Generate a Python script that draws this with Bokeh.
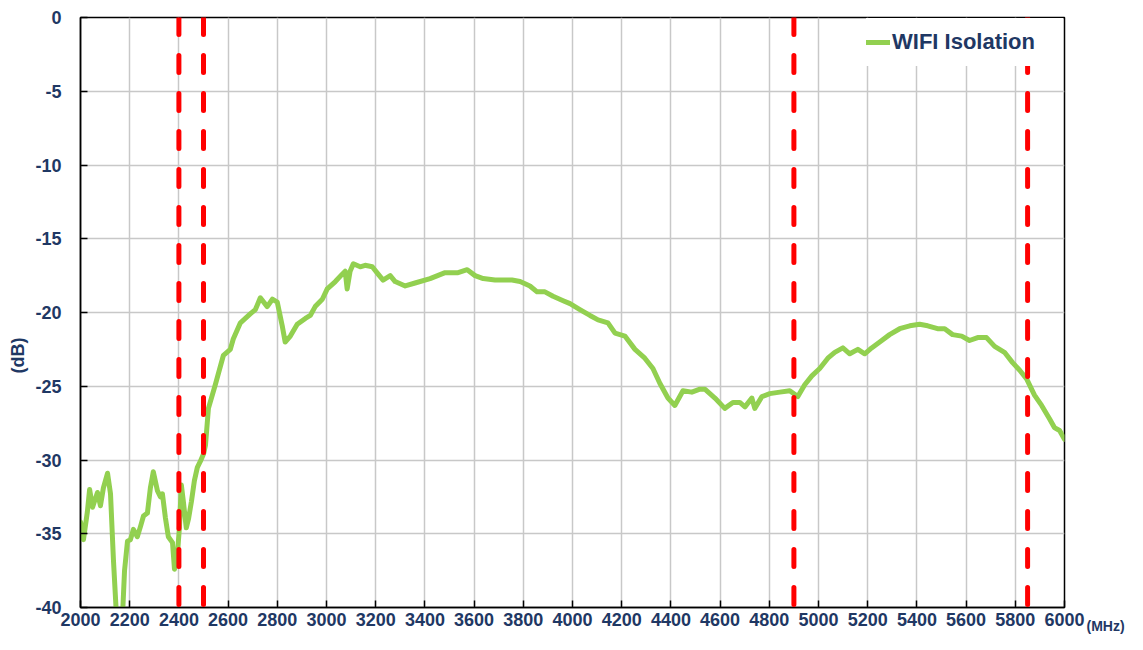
from bokeh.plotting import figure
from bokeh.models import (Span, Legend, LegendItem, Title, LinearAxis, FixedTicker, Range1d,
                          PrintfTickFormatter)
from bokeh.embed import file_html
from bokeh.resources import INLINE

# ---------------- data ----------------
freq_mhz = [
    2000, 2012, 2028, 2037, 2049, 2057, 2069, 2081, 2093, 2110, 2122, 2134, 2146, 2158, 2171,
    2179, 2191, 2203, 2215, 2231, 2244, 2256, 2272, 2284, 2296, 2313, 2325, 2333, 2345, 2357,
    2374, 2382, 2394, 2402, 2410, 2418, 2430, 2439, 2451, 2463, 2475, 2487, 2500, 2508, 2520,
    2548, 2581, 2609, 2621, 2650, 2670, 2690, 2711, 2731, 2759, 2780, 2800, 2820, 2832, 2853,
    2881, 2914, 2934, 2954, 2983, 3003, 3036, 3064, 3076, 3084, 3096, 3109, 3137, 3157, 3186,
    3210, 3230, 3259, 3279, 3320, 3360, 3421, 3482, 3535, 3572, 3604, 3637, 3685, 3726, 3754,
    3787, 3827, 3856, 3888, 3921, 3962, 3990, 4030, 4071, 4104, 4144, 4173, 4213, 4254, 4294,
    4327, 4355, 4388, 4416, 4449, 4485, 4518, 4538, 4579, 4619, 4652, 4680, 4701, 4729, 4741,
    4770, 4802, 4843, 4883, 4916, 4944, 4973, 5005, 5038, 5066, 5099, 5127, 5160, 5188, 5216,
    5249, 5289, 5330, 5371, 5411, 5444, 5484, 5513, 5545, 5582, 5614, 5647, 5683, 5716, 5756,
    5789, 5817, 5846, 5878, 5907, 5939, 5959, 5980, 6000,
]
isolation_db = [
    -34.2, -35.4, -33.5, -32.0, -33.2, -32.8, -32.2, -33.1, -31.9, -30.9, -32.3, -36.8, -40.5, -42.0, -40.5,
    -37.5, -35.5, -35.4, -34.7, -35.2, -34.5, -33.8, -33.6, -31.9, -30.8, -32.1, -32.5, -32.3, -33.9, -35.2,
    -35.6, -37.4, -36.4, -34.6, -31.7, -32.8, -34.6, -34.0, -32.8, -31.4, -30.5, -30.1, -29.6, -29.0, -26.5,
    -24.9, -22.9, -22.5, -21.8, -20.7, -20.4, -20.1, -19.8, -19.0, -19.6, -19.1, -19.3, -20.9, -22.0, -21.6,
    -20.8, -20.4, -20.2, -19.6, -19.1, -18.4, -17.9, -17.4, -17.2, -18.4, -17.2, -16.7, -16.9, -16.8, -16.9,
    -17.4, -17.8, -17.5, -17.9, -18.2, -18.0, -17.7, -17.3, -17.3, -17.1, -17.5, -17.7, -17.8, -17.8, -17.8,
    -17.9, -18.2, -18.6, -18.6, -18.9, -19.2, -19.4, -19.8, -20.2, -20.5, -20.7, -21.4, -21.6, -22.5, -23.1,
    -23.8, -24.8, -25.8, -26.3, -25.3, -25.4, -25.2, -25.2, -25.8, -26.5, -26.1, -26.1, -26.4, -25.8, -26.5,
    -25.7, -25.5, -25.4, -25.3, -25.7, -24.9, -24.3, -23.8, -23.1, -22.7, -22.4, -22.8, -22.5, -22.8, -22.4,
    -22.0, -21.5, -21.1, -20.9, -20.8, -20.9, -21.1, -21.1, -21.5, -21.6, -21.9, -21.7, -21.7, -22.3, -22.7,
    -23.4, -23.9, -24.5, -25.6, -26.3, -27.2, -27.8, -28.0, -28.6,
]
band_edges_mhz = [2400, 2500, 4900, 5850]
x_ticks = list(range(2000, 6001, 200))
y_ticks = list(range(-40, 1, 5))
series_name = "WIFI Isolation"
y_unit = "(dB)"
x_unit = "(MHz)"

# ---------------- styling ----------------
FONT = "Liberation Sans"
TEXT = "#1F3864"
GREEN = "#92D050"
GRID = "#C8C8C8"

p = figure(width=1127, height=634, output_backend="svg", toolbar_location=None,
           x_range=Range1d(2000, 6000), y_range=Range1d(-40, 0),
           min_border_left=80, min_border_right=62, min_border_top=17, min_border_bottom=27)
p.background_fill_color = "white"
p.border_fill_color = "white"
p.outline_line_color = "black"
p.outline_line_width = 1.5

for ax, ticks in ((p.xaxis[0], x_ticks), (p.yaxis[0], y_ticks)):
    ax.ticker = FixedTicker(ticks=ticks)
    ax.formatter = PrintfTickFormatter(format="%d")
    ax.axis_line_color = "black"
    ax.axis_line_width = 1.5
    ax.major_tick_line_color = "black"
    ax.major_tick_line_width = 1.5
    ax.major_tick_in = 7
    ax.major_tick_out = 0
    ax.minor_tick_line_color = None
    ax.major_label_text_font = FONT
    ax.major_label_text_font_style = "bold"
    ax.major_label_text_color = TEXT
    ax.major_label_text_font_size = "18px"
p.xaxis.major_label_standoff = 5
p.yaxis.major_label_standoff = 19

p.xgrid.ticker = FixedTicker(ticks=x_ticks)
p.ygrid.ticker = FixedTicker(ticks=y_ticks)
for g in (p.xgrid[0], p.ygrid[0]):
    g.grid_line_color = GRID
    g.grid_line_width = 1.5

r = p.line(freq_mhz, isolation_db, line_color=GREEN, line_width=5, line_join="round", line_cap="round")

for f in band_edges_mhz:
    p.add_layout(Span(location=f, dimension="height", line_color="#FF0000", line_width=5,
                      line_dash="17 21", line_cap="round"))

legend = Legend(items=[LegendItem(label=series_name, renderers=[r])], location="top_right",
                margin=1, padding=0, spacing=0, glyph_width=24, glyph_height=48,
                label_height=48, label_width=171, label_standoff=2,
                label_text_font=FONT, label_text_font_size="22px", label_text_font_style="bold",
                label_text_color=TEXT, border_line_color=None,
                background_fill_color="white", background_fill_alpha=1.0)
p.add_layout(legend)

# y unit as a title in the left panel
p.add_layout(Title(text=y_unit, align="left", offset=234, vertical_align="bottom",
                   text_font=FONT, text_font_style="bold", text_font_size="18px",
                   text_color=TEXT), "left")

# x unit: a label-only axis on the right, level with the x tick labels
p.extra_y_ranges = {"unit": Range1d(0, 1)}
unit_axis = LinearAxis(y_range_name="unit", ticker=FixedTicker(ticks=[0]),
                       major_label_overrides={0: "\n\n" + x_unit},
                       axis_line_color=None, major_tick_line_color=None,
                       minor_tick_line_color=None, major_tick_in=0, major_tick_out=0,
                       major_label_standoff=22, major_label_text_font=FONT,
                       major_label_text_font_style="bold", major_label_text_font_size="14px",
                       major_label_text_color=TEXT)
p.add_layout(unit_axis, "right")

open("out.html", "w").write(file_html(p, INLINE))
